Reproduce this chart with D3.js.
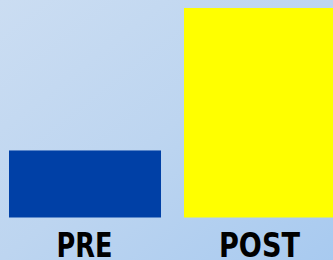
<!DOCTYPE html>
<html>
<head>
<meta charset="utf-8">
<script src="https://cdn.jsdelivr.net/npm/d3@7"></script>
<style>
  html, body { margin: 0; padding: 0; overflow: hidden; }
  svg { display: block; }
</style>
</head>
<body>
<div id="chart"></div>
<script>
// chart data
const categories = ["PRE", "POST"];
const values = [32, 100];
const barColors = ["#0040a6", "#ffff00"];
const labelWidths = [56, 81];

const width = 333, height = 260;

const svg = d3.select("#chart")
    .append("svg")
    .attr("width", width)
    .attr("height", height);

// soft blue backdrop
const grad = svg.append("defs")
    .append("linearGradient")
    .attr("id", "bg")
    .attr("x1", "0%").attr("y1", "0%")
    .attr("x2", "100%").attr("y2", "100%");
grad.append("stop").attr("offset", "0%").attr("stop-color", "#cbddf2");
grad.append("stop").attr("offset", "50%").attr("stop-color", "#bdd5f0");
grad.append("stop").attr("offset", "100%").attr("stop-color", "#a8caf0");

svg.append("rect")
    .attr("width", width)
    .attr("height", height)
    .attr("fill", "url(#bg)");

const x = d3.scaleBand()
    .domain(categories)
    .range([9, 336])
    .paddingInner(0.1314)
    .paddingOuter(0);

const y = d3.scaleLinear()
    .domain([0, 100])
    .range([217.5, 8]);

svg.selectAll("rect.bar")
    .data(categories)
    .enter()
    .append("rect")
    .attr("class", "bar")
    .attr("x", d => x(d))
    .attr("width", x.bandwidth())
    .attr("y", (d, i) => y(values[i]))
    .attr("height", (d, i) => y(0) - y(values[i]))
    .attr("fill", (d, i) => barColors[i]);

// category labels under the bars, squeezed to a condensed look
svg.selectAll("text.label")
    .data(categories)
    .enter()
    .append("text")
    .attr("class", "label")
    .attr("x", d => x(d) + x.bandwidth() / 2 - 0.5)
    .attr("y", 257)
    .attr("text-anchor", "middle")
    .attr("textLength", (d, i) => labelWidths[i])
    .attr("lengthAdjust", "spacingAndGlyphs")
    .style("font-family", "'DejaVu Sans Condensed', 'DejaVu Sans', sans-serif")
    .style("font-weight", "bold")
    .style("font-size", "34px")
    .style("fill", "#000")
    .text(d => d);
</script>
</body>
</html>
